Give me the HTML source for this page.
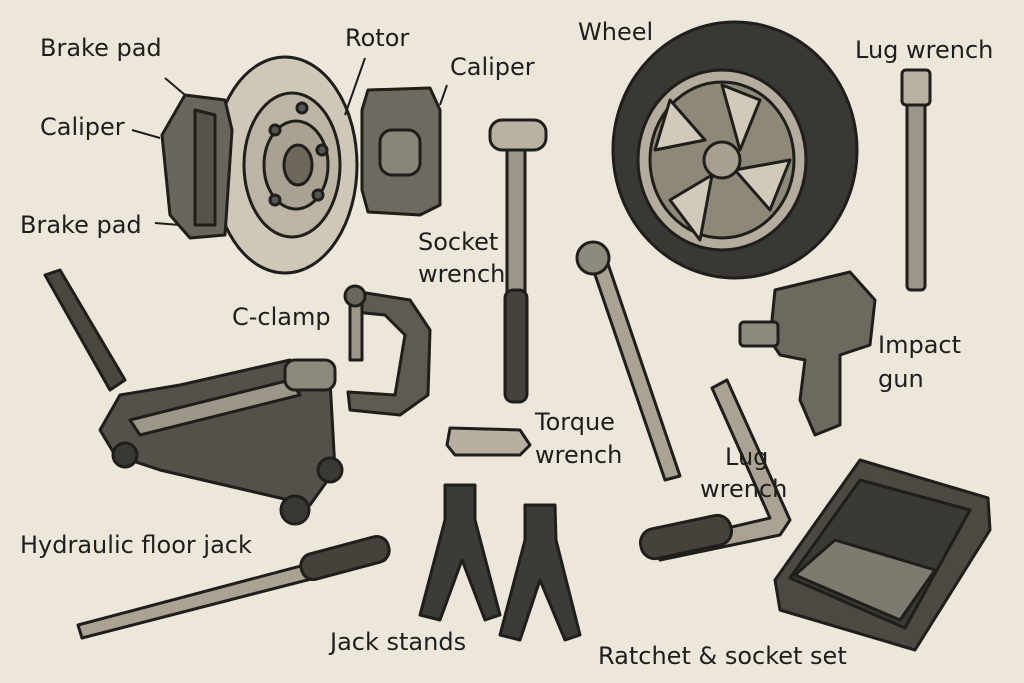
<!DOCTYPE html>
<html><head><meta charset="utf-8"><style>
html,body{margin:0;padding:0;background:#ede7db;}
svg{display:block}
text{font-family:"DejaVu Sans","Liberation Sans",sans-serif;font-size:24px;fill:#1e1e1c}
</style></head><body>
<svg width="1024" height="683" viewBox="0 0 1024 683" xmlns="http://www.w3.org/2000/svg">
<rect width="1024" height="683" fill="#ede7db"/>
<g stroke="#1f1e1b" stroke-width="3" stroke-linejoin="round" stroke-linecap="round">
<!-- rotor -->
<ellipse cx="285" cy="165" rx="72" ry="108" fill="#cfc8b8"/>
<ellipse cx="292" cy="165" rx="48" ry="72" fill="#bdb5a4"/>
<ellipse cx="296" cy="165" rx="32" ry="44" fill="#a9a191"/>
<ellipse cx="298" cy="165" rx="14" ry="20" fill="#6d675c"/>
<circle cx="275" cy="130" r="5" fill="#555"/><circle cx="322" cy="150" r="5" fill="#555"/><circle cx="275" cy="200" r="5" fill="#555"/><circle cx="318" cy="195" r="5" fill="#555"/><circle cx="302" cy="108" r="5" fill="#555"/>
<!-- left caliper/pad -->
<path d="M185 95 L225 100 L232 130 L225 235 L190 238 L170 215 L162 135 Z" fill="#6a665d"/>
<path d="M195 110 L215 115 L215 225 L195 225 Z" fill="#57534b"/>
<!-- right caliper -->
<path d="M368 90 L430 88 L440 110 L440 205 L420 215 L368 212 L362 190 L362 110 Z" fill="#6e6a61"/>
<rect x="380" y="130" width="40" height="45" rx="12" fill="#8a857a"/>
<!-- socket wrench -->
<rect x="507" y="140" width="18" height="260" rx="5" fill="#9c968a"/>
<rect x="505" y="290" width="22" height="112" rx="8" fill="#45423c"/>
<rect x="490" y="120" width="56" height="30" rx="12" fill="#b9b2a3"/>
<!-- wheel -->
<ellipse cx="735" cy="150" rx="122" ry="128" fill="#3a3833"/>
<ellipse cx="722" cy="160" rx="84" ry="90" fill="#b4ad9e"/>
<ellipse cx="722" cy="160" rx="72" ry="78" fill="#8e8878"/>
<path d="M722 85 L760 100 L740 150 Z M790 160 L770 210 L735 170 Z M700 240 L670 200 L712 175 Z M655 150 L670 100 L705 140 Z" fill="#d1cabb"/>
<circle cx="722" cy="160" r="18" fill="#a7a091"/>
<!-- lug wrench right -->
<rect x="907" y="95" width="18" height="195" rx="4" fill="#9c968a"/>
<rect x="902" y="70" width="28" height="35" rx="4" fill="#b9b2a3"/>
<!-- impact gun -->
<path d="M775 290 L850 272 L875 300 L870 345 L840 355 L840 425 L815 435 L800 400 L805 360 L780 355 L770 340 Z" fill="#6d695f"/>
<rect x="740" y="322" width="38" height="24" rx="4" fill="#8e897d"/>
<!-- torque wrench -->
<path d="M590 260 L665 480 L680 476 L605 255 Z" fill="#aaa393"/>
<circle cx="593" cy="258" r="16" fill="#8e897d"/>
<!-- lug wrench L -->
<path d="M655 545 L770 518 L712 388 L727 380 L790 520 L780 535 L660 560 Z" fill="#aaa393"/>
<rect x="640" y="522" width="92" height="30" rx="14" fill="#45423c" transform="rotate(-12 686 537)"/>
<!-- socket set -->
<path d="M775 580 L860 460 L988 498 L990 530 L915 650 L780 610 Z" fill="#4c4943"/>
<path d="M790 578 L860 480 L970 510 L905 628 Z" fill="#3b3934"/>
<path d="M795 575 L835 540 L935 570 L900 620 Z" fill="#7f7a70"/>
<!-- C-clamp -->
<path d="M360 292 L410 300 L430 330 L428 395 L400 415 L350 410 L348 392 L395 395 L405 335 L385 315 L355 312 Z" fill="#5f5b53"/>
<rect x="350" y="300" width="12" height="60" fill="#9c968a"/>
<circle cx="355" cy="296" r="10" fill="#6a665d"/>
<!-- small socket -->
<path d="M450 428 L520 430 L530 445 L520 455 L455 455 L447 445 Z" fill="#b7b0a1"/>
<!-- floor jack -->
<path d="M45 275 L60 270 L125 380 L110 390 Z" fill="#4a4741"/>
<path d="M100 430 L120 395 L180 385 L290 360 L330 380 L335 470 L310 505 L160 470 L115 455 Z" fill="#55514a"/>
<path d="M130 420 L290 380 L300 395 L140 435 Z" fill="#9d9789"/>
<rect x="285" y="360" width="50" height="30" rx="10" fill="#8e897d"/>
<circle cx="125" cy="455" r="12" fill="#3a3833"/><circle cx="295" cy="510" r="14" fill="#3a3833"/><circle cx="330" cy="470" r="12" fill="#3a3833"/>
<!-- breaker bar -->
<path d="M78 625 L380 545 L385 560 L82 638 Z" fill="#aaa393"/>
<rect x="300" y="545" width="90" height="26" rx="12" fill="#45423c" transform="rotate(-15 345 558)"/>
<!-- jack stands -->
<path d="M445 485 L475 485 L475 520 L500 615 L485 620 L462 560 L440 620 L420 615 L445 520 Z" fill="#3d3b36"/>
<path d="M525 505 L555 505 L556 540 L580 635 L565 640 L540 580 L520 640 L500 635 L525 540 Z" fill="#3d3b36"/>
</g>
<g stroke="#1f1e1b" stroke-width="2" fill="none">
<path d="M165 78 L185 95"/><path d="M132 130 L160 138"/><path d="M155 223 L180 225"/><path d="M365 58 L345 115"/><path d="M447 85 L440 105"/>
</g>
<text x="40" y="56">Brake pad</text>
<text x="40" y="135">Caliper</text>
<text x="20" y="233">Brake pad</text>
<text x="345" y="46">Rotor</text>
<text x="450" y="75">Caliper</text>
<text x="578" y="40">Wheel</text>
<text x="855" y="58">Lug wrench</text>
<text x="418" y="250">Socket</text>
<text x="418" y="282">wrench</text>
<text x="232" y="325">C-clamp</text>
<text x="878" y="353">Impact</text>
<text x="878" y="387">gun</text>
<text x="535" y="430">Torque</text>
<text x="535" y="463">wrench</text>
<text x="725" y="465">Lug</text>
<text x="700" y="497">wrench</text>
<text x="20" y="553">Hydraulic floor jack</text>
<text x="330" y="650">Jack stands</text>
<text x="598" y="664">Ratchet &amp; socket set</text>
</svg>
</body></html>
